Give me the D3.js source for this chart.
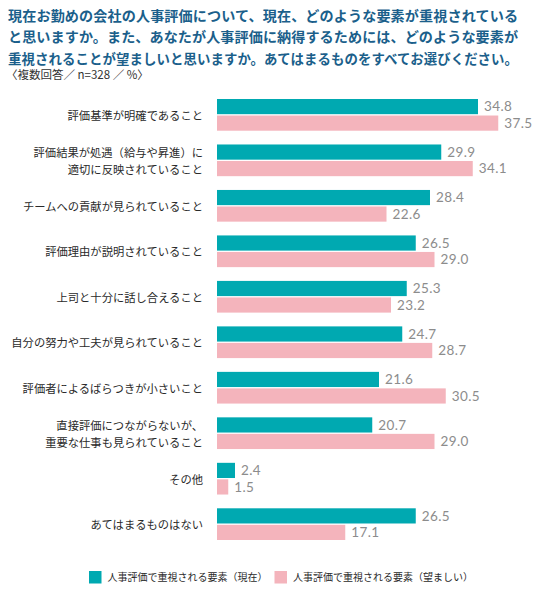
<!DOCTYPE html>
<html>
<head>
<meta charset="utf-8">
<script src="https://cdn.jsdelivr.net/npm/d3@7/dist/d3.min.js"></script>
<style>
  html, body { margin: 0; padding: 0; background: #fff; }
  svg { display: block; }
</style>
</head>
<body>
<svg id="chart" width="536" height="590"></svg>
<script>
const titleLines = [
  "現在お勤めの会社の人事評価について、現在、どのような要素が重視されている",
  "と思いますか。また、あなたが人事評価に納得するためには、どのような要素が",
  "重視されることが望ましいと思いますか。あてはまるものをすべてお選びください。"
];
const subtitle = "〈複数回答／ n=328 ／ %〉";
const categories = [
  "評価基準が明確であること",
  "評価結果が処遇（給与や昇進）に\n適切に反映されていること",
  "チームへの貢献が見られていること",
  "評価理由が説明されていること",
  "上司と十分に話し合えること",
  "自分の努力や工夫が見られていること",
  "評価者によるばらつきが小さいこと",
  "直接評価につながらないが、\n重要な仕事も見られていること",
  "その他",
  "あてはまるものはない"
];
const seriesNames = ["人事評価で重視される要素（現在）", "人事評価で重視される要素（望ましい）"];
const seriesNow = [34.8, 29.9, 28.4, 26.5, 25.3, 24.7, 21.6, 20.7, 2.4, 26.5];
const seriesWant = [37.5, 34.1, 22.6, 29.0, 23.2, 28.7, 30.5, 29.0, 1.5, 17.1];
const colors = ["#00a9b1", "#f4b4bc"];

const svg = d3.select("#chart");
const cjk = "'Noto Sans CJK JP', 'Noto Sans', sans-serif";

// Title
const tTop = svg.append("g");
titleLines.forEach((line, i) => {
  tTop.append("text")
    .attr("x", 8)
    .attr("y", 21 + i * 21.3)
    .attr("font-family", cjk)
    .attr("font-size", i === 2 ? 13.4 : 14.1)
    .attr("font-weight", "bold")
    .attr("fill", "#1b5f8b")
    .attr("textLength", 510)
    .attr("lengthAdjust", "spacing")
    .text(line);
});
svg.append("text")
  .attr("x", 6)
  .attr("y", 79)
  .attr("font-family", cjk)
  .attr("font-size", 11.5)
  .attr("fill", "#333")
  .text(subtitle);

// Scales
const x = d3.scaleLinear().domain([0, 40]).range([217, 517]);
const y = d3.scaleBand().domain(categories).range([99, 540]).paddingInner(0.303).paddingOuter(0);
const keys = ["now", "want"];
const ySub = d3.scaleBand().domain(keys).range([0, y.bandwidth()]).paddingInner(0.08);

const rows = categories.map((c, i) => ({ cat: c, now: seriesNow[i], want: seriesWant[i] }));

const groups = svg.append("g").selectAll("g")
  .data(rows).join("g")
  .attr("transform", d => `translate(0,${y(d.cat)})`);

groups.selectAll("rect")
  .data(d => keys.map((k, j) => ({ k, j, v: d[k] })))
  .join("rect")
  .attr("x", x(0))
  .attr("y", d => ySub(d.k))
  .attr("width", d => x(d.v) - x(0))
  .attr("height", ySub.bandwidth())
  .attr("fill", d => colors[d.j]);

const fmt = d3.format(".1f");
groups.selectAll("text.val")
  .data(d => keys.map((k, j) => ({ k, j, v: d[k] })))
  .join("text")
  .attr("class", "val")
  .attr("x", d => x(d.v) + 6)
  .attr("y", d => ySub(d.k) + ySub.bandwidth() / 2)
  .attr("dy", "0.36em")
  .attr("font-family", "Lato, 'Open Sans', sans-serif")
  .attr("font-size", 13.5)
  .attr("letter-spacing", 0.4)
  .attr("fill", "#8c8c8c")
  .text(d => fmt(d.v));

// Category labels
groups.each(function(d) {
  const lines = d.cat.split("\n");
  const g = d3.select(this);
  const c = y.bandwidth() / 2;
  lines.forEach((ln, i) => {
    const off = lines.length === 1 ? 0 : (i === 0 ? -8.5 : 8.5);
    g.append("text")
      .attr("x", 203)
      .attr("y", c + off + 1)
      .attr("dy", "0.36em")
      .attr("text-anchor", "end")
      .attr("font-family", cjk)
      .attr("font-size", 11.3)
      .attr("fill", "#2a2a2a")
      .text(ln);
  });
});

// Legend
const legendX = [89, 274.5];
const legend = svg.append("g");
seriesNames.forEach((name, i) => {
  legend.append("rect")
    .attr("x", legendX[i]).attr("y", 571)
    .attr("width", 12.5).attr("height", 12.5)
    .attr("fill", colors[i]);
  legend.append("text")
    .attr("x", legendX[i] + 18.5)
    .attr("y", 577.5)
    .attr("dy", "0.36em")
    .attr("font-family", cjk)
    .attr("font-size", 10)
    .attr("fill", "#2a2a2a")
    .text(name);
});
</script>
</body>
</html>
